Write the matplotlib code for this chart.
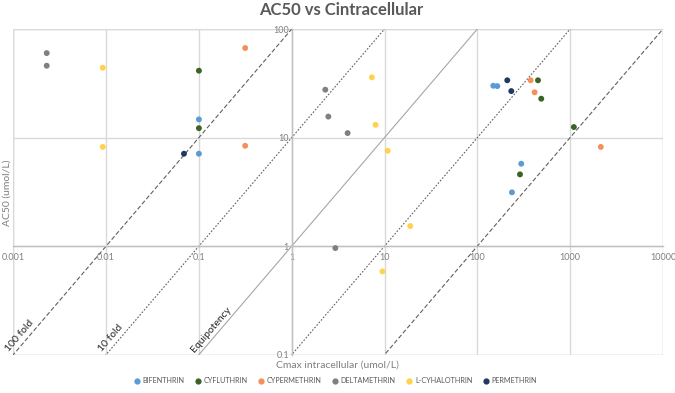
import matplotlib
matplotlib.use("Agg")
import matplotlib.pyplot as plt
from matplotlib.lines import Line2D
import numpy as np

plt.rcParams['font.family'] = ['Lato', 'DejaVu Sans']

# ---- data ----
bif_x = [0.1, 0.1, 148.6, 164, 297, 236]
bif_y = [14.7, 7.1, 30.0, 29.8, 5.74, 3.13]
cyf_x = [0.1, 0.1, 450, 488, 1096, 288]
cyf_y = [41.3, 12.2, 33.7, 22.8, 12.5, 4.58]
cyp_x = [0.315, 0.315, 375, 414, 2138]
cyp_y = [66.8, 8.4, 33.7, 26.1, 8.2]
del_x = [0.00229, 0.00229, 2.30, 2.48, 4.0, 2.95]
del_y = [60.0, 45.9, 27.6, 15.6, 11.0, 0.96]
lcy_x = [0.0092, 0.0092, 7.3, 8.0, 10.8, 18.9, 9.5]
lcy_y = [44.0, 8.2, 35.9, 13.1, 7.56, 1.53, 0.585]
per_x = [0.069, 210, 232]
per_y = [7.1, 33.7, 26.8]

series_names = ['BIFENTHRIN', 'CYFLUTHRIN', 'CYPERMETHRIN', 'DELTAMETHRIN',
                'L-CYHALOTHRIN', 'PERMETHRIN']
series_colors = ['#5B9BD5', '#3B6424', '#F4915A', '#808080', '#FFD24D', '#1F3864']

x_ticks = [0.001, 0.01, 0.1, 1, 10, 100, 1000, 10000]
x_tick_labels = ['0.001', '0.01', '0.1', '1', '10', '100', '1000', '10000']
y_ticks = [0.1, 1, 10, 100]
y_tick_labels = ['0.1', '1', '10', '100']

# fold lines: AC50 = fold * Cmax
fold_factors = [100, 10, 1, 0.1, 0.01]
fold_styles = [(0, (4, 2)), (0, (1.5, 1.5)), '-', (0, (1.5, 1.5)), (0, (4, 2))]
fold_labels = ['100 fold', '10 fold', 'Equipotency', None, None]

# ---- figure ----
fig = plt.figure(figsize=(6.75, 3.93), dpi=100)
ax = fig.add_axes([0.0197, 0.0975, 0.9625, 0.8287])
ax.set_xscale('log')
ax.set_yscale('log')
ax.set_xlim(0.001, 10000)
ax.set_ylim(0.1, 100)

grid_c = '#D9D9D9'
ax.grid(True, which='major', color=grid_c, linewidth=1.0)
ax.set_axisbelow(True)
ax.minorticks_off()

ax.spines['top'].set_visible(False)
ax.spines['right'].set_visible(False)
ax.spines['left'].set_position(('data', 1))
ax.spines['bottom'].set_position(('data', 1))
for s in ['left', 'bottom']:
    ax.spines[s].set_color('#BFBFBF')
    ax.spines[s].set_linewidth(1.0)

ax.set_xticks(x_ticks)
ax.set_xticklabels(x_tick_labels)
ax.set_yticks(y_ticks)
ax.set_yticklabels(y_tick_labels)
ax.tick_params(axis='both', length=0, labelsize=6.5, labelcolor='#7F7F7F')
ax.tick_params(axis='x', pad=5)
ax.tick_params(axis='y', pad=2)

# outer border as gridlines
for xv in [0.001, 10000]:
    ax.axvline(xv, color=grid_c, linewidth=1.0, zorder=0.5)
for yv in [0.1, 100]:
    ax.axhline(yv, color=grid_c, linewidth=1.0, zorder=0.5)

# fold lines
xs = np.array([0.0001, 100000])
fig.canvas.draw()
p0 = ax.transData.transform((1, 1))
p1 = ax.transData.transform((10, 10))
angle = np.degrees(np.arctan2(p1[1] - p0[1], p1[0] - p0[0]))
for f, ls, lab in zip(fold_factors, fold_styles, fold_labels):
    color = '#A6A6A6' if ls == '-' else '#606060'
    ax.plot(xs, f * xs, linestyle=ls, color=color, linewidth=0.8, zorder=1)
    if lab:
        x0 = 0.1 / f
        ax.text(x0 * 0.93, 0.1 * 1.02, lab, rotation=angle, rotation_mode='anchor',
                ha='left', va='bottom', fontsize=7.5, color='#262626', zorder=3)

# scatter
data = [(bif_x, bif_y), (cyf_x, cyf_y), (cyp_x, cyp_y), (del_x, del_y),
        (lcy_x, lcy_y), (per_x, per_y)]
for (sx, sy), name, c in zip(data, series_names, series_colors):
    ax.scatter(sx, sy, s=18, color=c, edgecolors='none', zorder=4, label=name,
               clip_on=False)

# titles
fig.text(0.505, 0.974, 'AC50 vs Cintracellular', ha='center', va='center',
         fontsize=12, fontweight='bold', color='#595959')
fig.text(0.011, 0.51, 'AC50 (umol/L)', rotation=90, ha='center', va='center',
         fontsize=7.5, color='#7F7F7F')
fig.text(0.5, 0.071, 'Cmax intracellular (umol/L)', ha='center', va='center',
         fontsize=7.5, color='#7F7F7F')

handles = [Line2D([], [], marker='o', linestyle='none', markersize=4.5,
                  markerfacecolor=c, markeredgecolor='none') for c in series_colors]
leg = fig.legend(handles, series_names, loc='center', bbox_to_anchor=(0.497, 0.031),
                 ncol=6, frameon=False, fontsize=5.2, handletextpad=0.35,
                 columnspacing=1.5, handlelength=0.8)
for t in leg.get_texts():
    t.set_color('#595959')

fig.savefig('out.png', dpi=100)
